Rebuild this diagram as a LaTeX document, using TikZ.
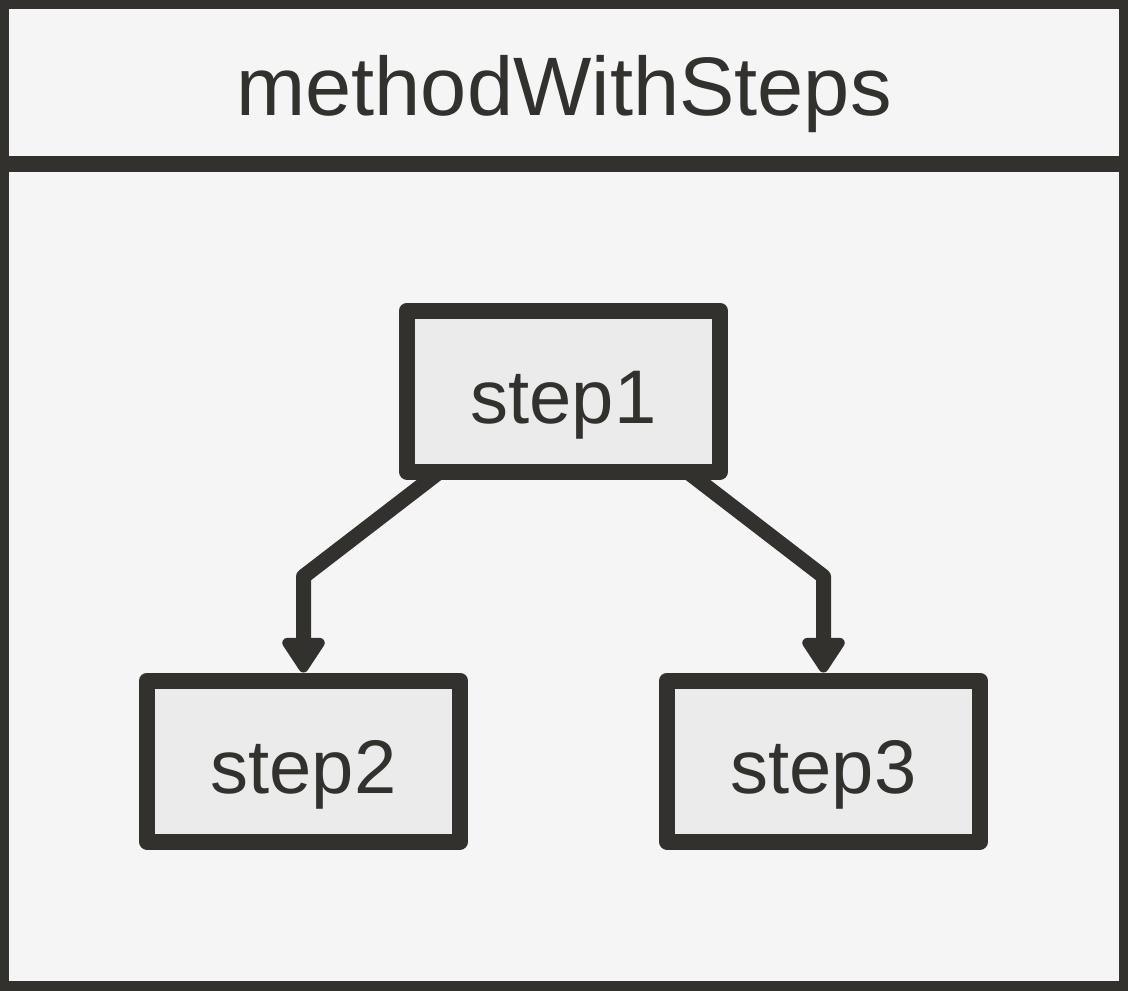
\documentclass[tikz,border=0pt]{standalone}
\usepackage{fontspec}
\setmainfont{Liberation Sans}
\usetikzlibrary{positioning,arrows.meta}
\definecolor{inkdark}{HTML}{32312D}
\definecolor{paper}{HTML}{F5F5F5}
\definecolor{boxfill}{HTML}{EBEBEB}
\tikzset{
	stepbox/.style={draw=inkdark,
		fill=boxfill,
		line width=8pt,
		line join=round,
		minimum width=156.5pt,
		minimum height=80.5pt,
		inner sep=0pt,
		text height=32pt,
		text depth=0pt,
		text=inkdark,
		font=\fontsize{38}{46}\selectfont
	},
	flow/.style={draw=inkdark,
		line width=7.5pt,
		line join=round,
		-{Triangle[width=24pt,length=19.5pt,round]}
	},
}

\begin{document}
\begin{tikzpicture}[x=0.5pt,y=-0.5pt]

\useasboundingbox (0,0) rectangle (1128,990);
\fill[paper] (0,0) rectangle (1128,990);

% Frame and title
\draw[inkdark, line width=9pt] (0,0) rectangle (1128,990);
\draw[inkdark, line width=8pt] (0,164) -- (1128,164);
\node [text=inkdark,
	font=\fontsize{41.5}{50}\selectfont,
	anchor=base
]  (title) at (564,115) {methodWithSteps};

% Step 1
\node [stepbox]  (step1) at (563.5,391) {step1};

% Step 2
\node [stepbox,
	below = 96.5pt of step1,
	xshift=-130pt
]  (step2) {step2};

% Step 3
\node [stepbox,
	below = 96.5pt of step1,
	xshift=130pt
]  (step3) {step3};

% Arrows
\draw[flow] ([xshift=-61.75pt,yshift=4pt] step1.south) -- ([yshift=48pt] step2.north) -- (step2.north);
\draw[flow] ([xshift=61.75pt,yshift=4pt] step1.south) -- ([yshift=48pt] step3.north) -- (step3.north);

\end{tikzpicture}
\end{document}
